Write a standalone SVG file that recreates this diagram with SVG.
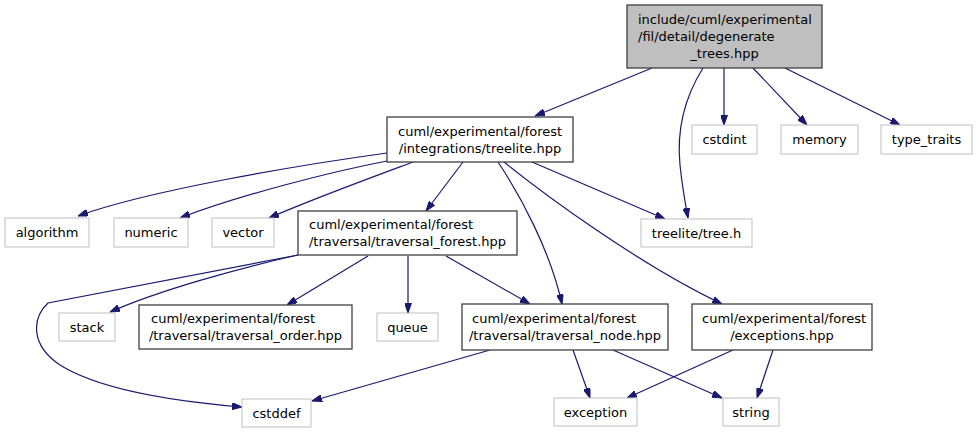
<svg xmlns="http://www.w3.org/2000/svg" width="979" height="433" viewBox="0 0 979 433">
<style>
text{font-family:"DejaVu Sans","Liberation Sans",sans-serif;font-size:13px;fill:#000}
.c{text-anchor:middle}
.g rect{fill:#fff;stroke:#bfbfbf;stroke-width:1}
.b rect{fill:#fff;stroke:#404040;stroke-width:1.3}
.top rect{fill:#bfbfbf;stroke:#404040;stroke-width:1.3}
.e path{fill:none;stroke:#191970;stroke-width:1.2;marker-end:url(#a)}
</style>
<defs>
<marker id="a" viewBox="0 0 10 7" refX="10" refY="3.5" markerWidth="10" markerHeight="7" orient="auto" markerUnits="userSpaceOnUse">
<path d="M0,0 L10,3.5 L0,7 z" fill="#191970" stroke="#191970"/>
</marker>
</defs>
<rect width="979" height="433" fill="#fff"/>
<g id="edges" class="e">
<path d="M652,68 L535,116"/>
<path d="M703,68 C688,92 676,125 680,165 C682,185 685,202 688,218"/>
<path d="M724,68 L724,125"/>
<path d="M753,68 L807,125"/>
<path d="M785,68 L900,125"/>
<path d="M387,153 C300,165 150,190 78,216"/>
<path d="M387,161 C330,172 240,195 180,218"/>
<path d="M413,162 C370,178 310,200 269,218"/>
<path d="M463,162 L426,211"/>
<path d="M498,162 C520,195 550,250 562,304"/>
<path d="M504,162 C545,195 640,265 722,304"/>
<path d="M532,162 L665,219"/>
<path d="M298,255 C240,268 160,290 110,312"/>
<path d="M298,255 L48,303 C32,318 30,345 60,365 C100,390 170,401 242,407"/>
<path d="M368,256 L287,305"/>
<path d="M408,256 L408,313"/>
<path d="M446,256 L530,304"/>
<path d="M490,350 L312,401"/>
<path d="M573,350 L590,398"/>
<path d="M613,350 L722,398"/>
<path d="M733,350 L627,398"/>
<path d="M773,350 L757,398"/>
</g>
<g id="n_root" class="top"><rect x="627" y="5" width="195" height="63"/>
<text x="638" y="23.5">include/cuml/experimental</text>
<text x="638" y="40.5">/fil/detail/degenerate</text>
<text x="724.5" y="57.5" class="c">_trees.hpp</text></g>
<g id="n_cstdint" class="g"><rect x="692" y="125" width="65" height="29"/><text x="724.5" y="144" class="c">cstdint</text></g>
<g id="n_memory" class="g"><rect x="781" y="125" width="77" height="29"/><text x="819.5" y="144" class="c">memory</text></g>
<g id="n_type_traits" class="g"><rect x="881" y="125" width="91" height="29"/><text x="926.5" y="144" class="c">type_traits</text></g>
<g id="n_treelite" class="b"><rect x="387" y="117" width="186" height="45"/>
<text x="398" y="135.5">cuml/experimental/forest</text>
<text x="480" y="152.5" class="c">/integrations/treelite.hpp</text></g>
<g id="n_algorithm" class="g"><rect x="5" y="218" width="84" height="29"/><text x="47" y="237" class="c">algorithm</text></g>
<g id="n_numeric" class="g"><rect x="114" y="218" width="74" height="29"/><text x="151" y="237" class="c">numeric</text></g>
<g id="n_vector" class="g"><rect x="212" y="218" width="62" height="29"/><text x="243" y="237" class="c">vector</text></g>
<g id="n_tforest" class="b"><rect x="298" y="211" width="219" height="44"/>
<text x="309" y="229">cuml/experimental/forest</text>
<text x="407.5" y="246" class="c">/traversal/traversal_forest.hpp</text></g>
<g id="n_treeh" class="g"><rect x="641" y="219" width="111" height="28"/><text x="696.5" y="237.5" class="c">treelite/tree.h</text></g>
<g id="n_stack" class="g"><rect x="59" y="313" width="56" height="28"/><text x="87" y="331.5" class="c">stack</text></g>
<g id="n_torder" class="b"><rect x="139" y="305" width="213" height="44"/>
<text x="151" y="323">cuml/experimental/forest</text>
<text x="245.5" y="340" class="c">/traversal/traversal_order.hpp</text></g>
<g id="n_queue" class="g"><rect x="377" y="313" width="61" height="28"/><text x="407.5" y="331.5" class="c">queue</text></g>
<g id="n_tnode" class="b"><rect x="462" y="304" width="206" height="46"/>
<text x="472" y="323">cuml/experimental/forest</text>
<text x="565" y="340" class="c">/traversal/traversal_node.hpp</text></g>
<g id="n_exceptions" class="b"><rect x="692" y="304" width="180" height="46"/>
<text x="702" y="323">cuml/experimental/forest</text>
<text x="782" y="340" class="c">/exceptions.hpp</text></g>
<g id="n_cstddef" class="g"><rect x="242" y="399" width="69" height="28"/><text x="276.5" y="417.5" class="c">cstddef</text></g>
<g id="n_exception" class="g"><rect x="554" y="398" width="83" height="28"/><text x="595.5" y="416.5" class="c">exception</text></g>
<g id="n_string" class="g"><rect x="723" y="398" width="56" height="28"/><text x="751" y="416.5" class="c">string</text></g>
</svg>
